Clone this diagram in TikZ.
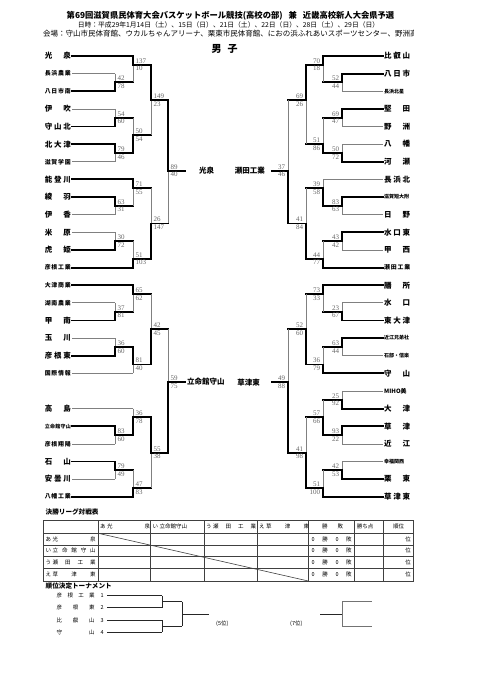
\documentclass[tikz,border=0pt]{standalone}
\usepackage{fontspec}
\setmainfont{Liberation Serif}
\newfontfamily\jp{Noto Sans CJK JP}
\usetikzlibrary{positioning}
\newcommand{\kname}[2]{\makebox[7pt][l]{#1}\makebox[43pt][s]{#2}}

\begin{document}
\begin{tikzpicture}[x=1pt,y=-1pt,
  win/.style={line width=1.9pt,line cap=rect,black},
  lose/.style={line width=0.7pt,black!50},
  sc/.style={font=\fontsize{7}{7}\selectfont,text=black!60,inner sep=1.3pt},
  big/.style={font=\jp\bfseries\fontsize{7.5}{8}\selectfont,inner sep=1pt},
  small/.style={font=\jp\bfseries\fontsize{5.9}{6}\selectfont,inner sep=1pt},
  tiny/.style={font=\jp\bfseries\fontsize{5}{6}\selectfont,inner sep=1pt},
  fin/.style={font=\jp\bfseries\fontsize{7.5}{8}\selectfont,inner sep=0pt},
  cell/.style={font=\jp\fontsize{5.5}{6}\selectfont,inner sep=0pt},
  sect/.style={font=\jp\bfseries\fontsize{6.6}{7}\selectfont,inner sep=0pt},
  tab/.style={line width=0.6pt,black!75},
  brk/.style={line width=0.8pt,black!85}]

  \useasboundingbox (0,0) rectangle (481,680);

  \node[font=\jp\bfseries\fontsize{8.3}{9}\selectfont] (title) at (230.5,15.7)
    {第69回滋賀県民体育大会バスケットボール競技(高校の部)\hspace{6pt}兼\hspace{6pt}近畿高校新人大会県予選};
  \node[font=\jp\fontsize{6.8}{7}\selectfont] (date) at (228.5,25)
    {日時：平成29年1月14日（土）、15日（日）、21日（土）、22日（日）、28日（土）、29日（日）};
  \begin{scope}
    \clip (0,28) rectangle (413,40);
    \node[font=\jp\fontsize{7.5}{8}\selectfont,anchor=west,inner sep=0pt] (venue) at (43,34)
      {会場：守山市民体育館、ウカルちゃんアリーナ、栗東市民体育館、におの浜ふれあいスポーツセンター、野洲高校};
  \end{scope}
  \node[font=\jp\bfseries\fontsize{10}{10}\selectfont] (boys) at (224.5,49) {\makebox[26pt][s]{男\hfil 子}};

  \begin{scope}[y=-17.63pt,yshift=-56pt]
    \foreach \row/\txt/\sty/\X/\wl [count=\i] in {
      0/{光\hfil 泉}/big/133/win, 1/{長\hfil 浜\hfil 農\hfil 業}/small/115/lose,
      2/{八\hfil 日\hfil 市\hfil 南}/small/115/win, 3/{伊\hfil 吹}/big/115/lose,
      4/{守\hfil 山\hfil 北}/big/115/win, 5/{北\hfil 大\hfil 津}/big/115/win,
      6/{滋\hfil 賀\hfil 学\hfil 園}/small/115/lose, 7/{能\hfil 登\hfil 川}/big/133/win,
      8/{綾\hfil 羽}/big/115/win, 9/{伊\hfil 香}/big/115/lose,
      10/{米\hfil 原}/big/115/lose, 11/{虎\hfil 姫}/big/115/win,
      12/{彦\hfil 根\hfil 工\hfil 業}/small/133/win, 13/{大\hfil 津\hfil 商\hfil 業}/small/133/win,
      14/{湖\hfil 南\hfil 農\hfil 業}/small/115/lose, 15/{甲\hfil 南}/big/115/win,
      16/{玉\hfil 川}/big/115/lose, 17/{彦\hfil 根\hfil 東}/big/115/win,
      18/{国\hfil 際\hfil 情\hfil 報}/small/133/lose, 20/{高\hfil 島}/big/133/lose,
      21/{立\hfil 命\hfil 館\hfil 守\hfil 山}/tiny/115/win, 22/{彦\hfil 根\hfil 翔\hfil 陽}/small/115/lose,
      23/{石\hfil 山}/big/115/win, 24/{安\hfil 曇\hfil 川}/big/115/lose,
      25/{八\hfil 幡\hfil 工\hfil 業}/small/133/win} {
      \node[\sty,anchor=east] (lt\i) at (72,\row) {\makebox[26pt][s]{\txt}};
      \draw[\wl] (lt\i.east) -- (\X,\row);
    }
    \foreach \row/\txt/\sty/\X/\wl [count=\i] in {
      0/{比\hfil 叡\hfil 山}/big/323/win, 1/{八\hfil 日\hfil 市}/big/342/win,
      2/{長浜北星}/tiny/342/lose, 3/{堅\hfil 田}/big/342/win,
      4/{野\hfil 洲}/big/342/lose, 5/{八\hfil 幡}/big/342/lose,
      6/{河\hfil 瀬}/big/342/win, 7/{長\hfil 浜\hfil 北}/big/323/lose,
      8/{滋賀短大附}/tiny/342/win, 9/{日\hfil 野}/big/342/lose,
      10/{水\hfil 口\hfil 東}/big/342/win, 11/{甲\hfil 西}/big/342/lose,
      12/{瀬\hfil 田\hfil 工\hfil 業}/small/323/win, 13/{膳\hfil 所}/big/323/win,
      14/{水\hfil 口}/big/342/lose, 15/{東\hfil 大\hfil 津}/big/342/win,
      16/{近江兄弟社}/tiny/342/win, 17/{石部・信楽}/tiny/342/lose,
      18/{守\hfil 山}/big/323/win, 19/{MIHO美}/small/342/lose,
      20/{大\hfil 津}/big/342/win, 21/{草\hfil 津}/big/342/win,
      22/{近\hfil 江}/big/342/lose, 23/{幸福関西}/tiny/342/lose,
      24/{栗\hfil 東}/big/342/win, 25/{草\hfil 津\hfil 東}/big/323/win} {
      \node[\sty,anchor=west] (rt\i) at (383,\row) {\makebox[26pt][s]{\txt}};
      \draw[\wl] (\X,\row) -- (rt\i.west);
    }

    \foreach \X/\ya/\yb/\E/\N/\sa/\sb/\wa/\wb [count=\i] in {
      115/1/2/1.5/133/42/78/lose/win, 133/0/1.5/0.5/151/137/10/win/lose,
      115/3/4/3.5/133/54/60/lose/win, 115/5/6/5.5/133/79/46/win/lose,
      133/3.5/5.5/4.5/151/50/54/lose/win, 151/0.5/4.5/2.5/168/149/23/win/lose,
      115/8/9/8.5/133/63/31/win/lose, 133/7/8.5/7.5/151/71/55/win/lose,
      115/10/11/10.5/133/30/72/lose/win, 133/10.5/12/11.5/151/51/103/lose/win,
      151/7.5/11.5/9.5/168/26/147/lose/win, 168/2.5/9.5/6.5/185/89/40/win/lose,
      115/14/15/14.5/133/37/81/lose/win, 133/13/14.5/13.5/151/65/62/win/lose,
      115/16/17/16.5/133/36/60/lose/win, 133/16.5/18/17.5/151/81/40/win/lose,
      151/13.5/17.5/15.5/168/42/45/lose/win, 115/21/22/21.5/133/83/60/win/lose,
      133/20/21.5/20.5/151/36/78/lose/win, 115/23/24/23.5/133/79/49/win/lose,
      133/23.5/25/24.5/151/47/83/lose/win, 151/20.5/24.5/22.5/168/55/38/win/lose,
      168/15.5/22.5/18.5/185/59/75/lose/win} {
      \draw[\wa] (\X,\ya) -- (\X,\E);
      \draw[\wb] (\X,\E) -- (\X,\yb);
      \draw[win] (\X,\E) -- (\N,\E);
      \node[sc,anchor=south west,xshift=1pt] (lsa\i) at (\X,\E) {\sa};
      \node[sc,anchor=north west,xshift=1pt] (lsb\i) at (\X,\E) {\sb};
    }
    \foreach \X/\ya/\yb/\E/\N/\sa/\sb/\wa/\wb [count=\i] in {
      342/1/2/1.5/323/52/44/win/lose, 323/0/1.5/0.5/306/70/18/win/lose,
      342/3/4/3.5/323/69/47/win/lose, 342/5/6/5.5/323/50/72/lose/win,
      323/3.5/5.5/5/306/51/86/lose/win, 306/0.5/5/2.5/288/69/26/win/lose,
      342/8/9/8.5/323/83/63/win/lose, 323/7/8.5/7.5/306/39/58/lose/win,
      342/10/11/10.5/323/43/42/win/lose, 323/10.5/12/11.5/306/44/77/lose/win,
      306/7.5/11.5/9.5/288/41/84/lose/win, 288/2.5/9.5/6.5/272/37/46/lose/win,
      342/14/15/14.5/323/23/67/lose/win, 323/13/14.5/13.5/306/73/33/win/lose,
      342/16/17/16.5/323/63/44/win/lose, 323/16.5/18/17.5/306/36/79/lose/win,
      306/13.5/17.5/15.5/288/52/60/lose/win, 342/19/20/19.5/323/25/92/lose/win,
      342/21/22/21.5/323/93/22/win/lose, 323/19.5/21.5/20.5/306/57/66/lose/win,
      342/23/24/23.5/323/42/53/lose/win, 323/23.5/25/24.5/306/51/100/lose/win,
      306/20.5/24.5/22.5/288/41/98/lose/win, 288/15.5/22.5/18.5/272/49/88/lose/win} {
      \draw[\wa] (\X,\ya) -- (\X,\E);
      \draw[\wb] (\X,\E) -- (\X,\yb);
      \draw[win] (\X,\E) -- (\N,\E);
      \node[sc,anchor=south east,xshift=-1.5pt] (rsa\i) at (\X,\E) {\sa};
      \node[sc,anchor=north east,xshift=-1.5pt] (rsb\i) at (\X,\E) {\sb};
    }

    \node[fin,anchor=west] (lwin) at (199,6.5) {光泉};
    \node[fin,anchor=west] (lwin2) at (187,18.5) {立命館守山};
    \node[fin,anchor=east] (rwin) at (265,6.5) {瀬田工業};
    \node[fin,anchor=east] (rwin2) at (260,18.5) {草津東};
  \end{scope}

  \node[sect,anchor=west] (league) at (45.5,512) {決勝リーグ対戦表};
  \draw[tab] (43.3,520) rectangle (413.3,581);
  \foreach \x in {98.3,150.7,204,257.3,308.3,354.3,383.3}
    \draw[tab] (\x,520) -- (\x,581);
  \foreach \y in {533.3,545,556.7,568.3}
    \draw[tab] (43.3,\y) -- (413.3,\y);
  \draw[tab] (98.3,533.3) -- (308.3,581);
  \foreach \x/\k/\nm [count=\i] in {100/あ/{光\hfil 泉}, 152.5/い/{立命館守山},
      206/う/{瀬\hfil 田\hfil 工\hfil 業}, 259/え/{草\hfil 津\hfil 東}}
    \node[cell,anchor=west] (hd\i) at (\x,526.7) {\kname{\k}{\nm}};
  \node[cell] (hwl) at (332.5,526.7) {\makebox[21pt][s]{勝\hfil 敗}};
  \node[cell] (hpt) at (365,526.7) {勝ち点};
  \node[cell] (hrk) at (398.5,526.7) {順位};
  \foreach \y/\k/\nm [count=\i] in {539.2/あ/{光\hfil 泉}, 550.9/い/{立\hfil 命\hfil 館\hfil 守\hfil 山},
      562.5/う/{瀬\hfil 田\hfil 工\hfil 業}, 574.7/え/{草\hfil 津\hfil 東}} {
    \node[cell,anchor=west] (rl\i) at (45.5,\y) {\kname{\k}{\nm}};
    \node[cell] (wl\i) at (331.7,\y) {\makebox[40pt][s]{0\hfil 勝\hfil 0\hfil 敗}};
    \node[cell,anchor=east] (rk\i) at (411,\y) {位};
  }

  \node[sect,anchor=west] (place) at (45.5,586) {順位決定トーナメント};
  \foreach \y/\nm/\n [count=\i] in {595.7/{彦\hfil 根\hfil 工\hfil 業}/1, 607.7/{彦\hfil 根\hfil 東}/2,
      620/{比\hfil 叡\hfil 山}/3, 632.3/{守\hfil 山}/4} {
    \node[cell,anchor=west] (pl\i) at (56.5,\y) {\makebox[38pt][s]{\nm}\hspace{6pt}\n};
    \draw[brk] ([xshift=3pt]pl\i.east) -- (162.3,\y);
  }
  \draw[brk] (162.3,595.7) -- (162.3,607.7);
  \draw[brk] (162.3,620) -- (162.3,632.3);
  \draw[brk] (162.3,601.7) -- (182.3,601.7);
  \draw[brk] (162.3,626.2) -- (182.3,626.2);
  \draw[brk] (182.3,601.7) -- (182.3,626.2);
  \draw[brk] (182.3,614) -- (209.3,614);
  \node[cell,anchor=west] (fifth) at (216,623.3) {(5位)};
  \node[cell,anchor=west] (seventh) at (290,623.3) {(7位)};
  \draw[brk] (320,614) -- (342.7,614);
  \draw[brk,black!55] (371.7,601.7) -- (342.7,601.7) -- (342.7,626.2) -- (371.7,626.2);
\end{tikzpicture}
\end{document}
